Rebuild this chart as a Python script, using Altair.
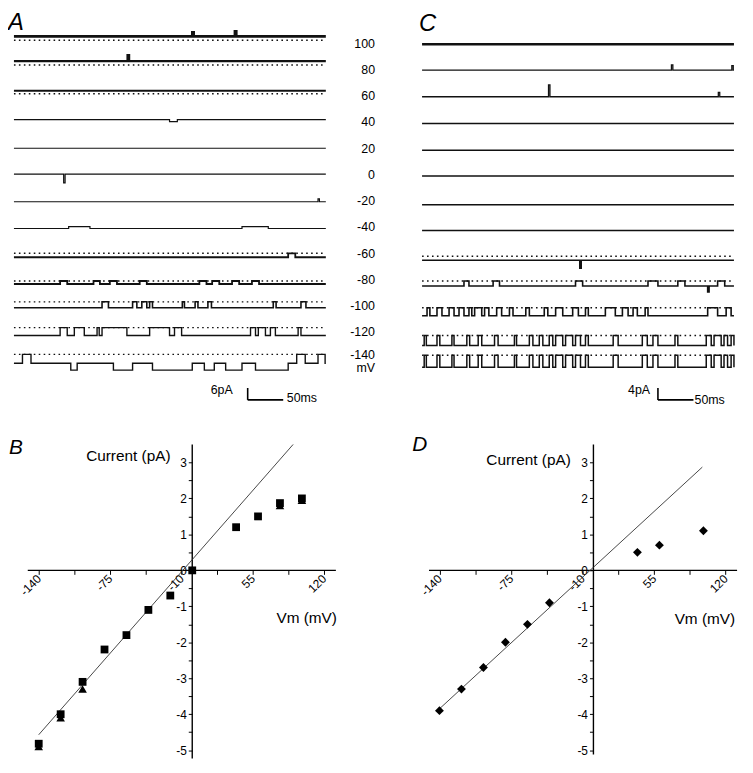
import altair as alt
import pandas as pd

# ------------------------------------------------------------------ data
VOLTS = [100, 80, 60, 40, 20, 0, -20, -40, -60, -80, -100, -120, -140]
TRACE_MS = 439

# Panel A (6 pA scale): baseline shift of each trace (pA), dotted level (pA above baseline)
A_shift = [3.5, 4.25, 2.5, 1.25, 0.0, 0.25, -0.5, -0.75, -2.0, -2.25, -1.0, -1.75, -2.5]
A_level = [-2.0, -2.0, -1.5, None, None, None, None, None, 2.0, 1.5, 3.0, 4.0, 4.5]
# channel events: (start ms, end ms, amplitude pA)
A_events = {
    100: [(251, 253, 2.0), (311, 313, 2.5)],
    80: [(160, 162, 3.0)],
    40: [(219, 230, -1.0)],
    0: [(70, 72, -4.5)],
    -20: [(428, 430, 1.5)],
    -40: [(77, 107, 1.0), (321, 358, 1.0)],
    -60: [(386, 396, 2.0)],
    -80: [(65, 75, 1.5), (112, 121, 1.5), (135, 145, 1.5), (177, 187, 1.5),
          (261, 271, 1.5), (279, 289, 1.5), (307, 317, 1.5), (335, 345, 1.5)],
    -100: [(124, 133, 3.0), (167, 173, 3.0), (180, 187, 3.0), (191, 195, 3.0), (237, 240, 3.0),
           (255, 259, 3.0), (273, 278, 3.0), (365, 369, 3.0), (404, 411, 3.0)],
    -120: [(65, 75, 4.0), (85, 99, 4.0), (117, 120, 4.0), (124, 159, 4.0), (191, 219, 4.0),
           (226, 236, 4.0), (333, 340, 4.0), (344, 354, 4.0), (361, 368, 4.0), (400, 404, 4.0)],
    -140: [(12, 24, 4.5), (80, 89, -3.5), (140, 167, -3.5), (195, 251, -3.5), (268, 282, -3.5),
           (298, 321, -3.5), (340, 386, -3.5), (398, 410, 4.5), (428, 438, 4.5)],
}

# Panel C (4 pA scale)
C_shift = [-0.33, -0.17, -0.33, -0.5, -0.67, -0.5, -1.33, -1.17, -2.33, -2.17, -3.33, -4.5, -3.0]
C_level = [None, None, None, None, None, None, None, None, 1.33, 1.67, 2.67, 3.33, 4.0]
C_open_100 = [(7, 11), (21, 28), (38, 45), (52, 59), (66, 70), (74, 84), (88, 94), (105, 112),
              (123, 128), (146, 151), (172, 177), (188, 198), (212, 220), (230, 234), (258, 272),
              (282, 290), (297, 303), (314, 318), (402, 416), (428, 435)]
C_open_120 = [(3, 6), (21, 25), (42, 45), (63, 67), (79, 84), (102, 107), (130, 133), (151, 156),
              (165, 170), (179, 184), (188, 198), (202, 212), (216, 223), (230, 234), (269, 276),
              (310, 317), (325, 332), (356, 360), (400, 407), (411, 421), (425, 430), (435, 439)]
C_events = {
    80: [(351, 353, 1.7), (436, 438, 1.5)],
    60: [(178, 180, 4.0), (417, 419, 1.5)],
    -60: [(222, 224, -2.7)],
    -80: [(59, 66, 1.67), (100, 109, 1.67), (216, 226, 1.67), (318, 332, 1.67),
          (360, 370, 1.67), (402, 404, -2.0), (416, 426, 1.67)],
    -100: [(a, b, 2.67) for a, b in C_open_100],
    -120: [(a, b, 3.33) for a, b in C_open_120],
    -140: [(a, b, 4.0) for a, b in C_open_120],
}

A_bar_pa, A_bar_ms = 6, 50
C_bar_pa, C_bar_ms = 4, 50

# Panel B: I-V relation
B_vm = [-140, -120, -100, -80, -60, -40, -20, 0, 40, 60, 80, 100]
B_sq = [-4.82, -4.0, -3.1, -2.2, -1.8, -1.1, -0.7, 0.0, 1.2, 1.5, 1.87, 2.0]
B_tri_vm = [-140, -120, -100, 80, 100]
B_tri = [-4.9, -4.1, -3.3, 1.8, 1.95]
B_fit_vm = [-140, 92]
B_fit_pa = [-4.57, 3.5]

# Panel D: I-V relation
D_vm = [-140, -120, -100, -80, -60, -40, 40, 60, 100]
D_pa = [-3.9, -3.3, -2.7, -2.0, -1.5, -0.9, 0.5, 0.7, 1.1]
D_fit_vm = [-140, 99]
D_fit_pa = [-3.85, 2.87]

X_TICKS = [-140, -107.5, -75, -42.5, -10, 22.5, 55, 87.5, 120]
X_LABELS = [-140, -75, -10, 55, 120]
Y_TICKS = [-5, -4.5, -4, -3.5, -3, -2.5, -2, -1.5, -1, -0.5, 0, 0.5, 1, 1.5, 2, 2.5, 3]

# ------------------------------------------------------------------ style / layout
FONT = "Liberation Sans"
A_width = [2.6, 2.4, 2.0, 1.2, 1.2, 1.2, 1.2, 1.2, 1.8, 1.8, 1.6, 1.4, 1.4]
C_width = [2.6, 1.3, 1.3, 1.5, 1.5, 1.5, 1.5, 1.5, 1.6, 1.6, 1.6, 1.5, 1.5]
GAP_A = 13.25          # row spacing in pA (2 px / pA)
GAP_C = 26.5 / 3       # row spacing in pA (3 px / pA)
TOP_W, TOP_H = 317, 397
A_YDOM = [-182.5, 16.0]
C_YDOM = [-121.67, 10.667]
T_DOM = [0, 442]


def letter_layer(letter, x, y, size, baseline):
    return alt.Chart(pd.DataFrame({"s": [letter]})).mark_text(
        align="left", baseline=baseline, fontSize=size, fontStyle="italic",
        font=FONT, color="black").encode(x=alt.value(x), y=alt.value(y), text="s:N")


def trace_table(shift, events, gap, widths):
    recs = []
    for k, v in enumerate(VOLTS):
        base = -k * gap + shift[k]
        pts = [(0.0, 0.0)]
        for t0, t1, a in sorted(events.get(v, [])):
            pts += [(t0, a), (t1, 0.0)]
        pts.append((TRACE_MS, 0.0))
        for i, (t, a) in enumerate(pts):
            recs.append(dict(row=k, i=i, t=t, y=base + a, w=widths[k]))
    return pd.DataFrame(recs)


def level_table(shift, level, gap):
    recs = []
    for k, lv in enumerate(level):
        if lv is not None:
            recs.append(dict(t0=0, t1=TRACE_MS, y=-k * gap + shift[k] + lv))
    return pd.DataFrame(recs)


def trace_panel(shift, level, events, gap, widths, ydom, bar, letter, lx, ly, yaxis):
    xs = alt.Scale(domain=T_DOM, nice=False, zero=False)
    ys = alt.Scale(domain=ydom, nice=False, zero=False)
    df = trace_table(shift, events, gap, widths)
    lv = level_table(shift, level, gap)
    lines = alt.Chart(df).mark_line(interpolate="step-after", color="#111").encode(
        x=alt.X("t:Q", scale=xs, axis=None),
        y=alt.Y("y:Q", scale=ys, axis=yaxis),
        detail="row:N",
        order="i:Q",
        size=alt.Size("w:Q", scale=None),
    )
    dots = alt.Chart(lv).mark_rule(strokeDash=[1.6, 3.4], strokeWidth=1.4, color="#111").encode(
        x=alt.X("t0:Q", scale=xs, axis=None), x2="t1:Q",
        y=alt.Y("y:Q", scale=ys, axis=yaxis),
    )
    bt, by, pa, ms, tdx_l, tdy_l, tdx_r, tdy_r = bar
    bars = pd.DataFrame([dict(x0=bt, x1=bt, y0=by, y1=by + pa), dict(x0=bt, x1=bt + ms, y0=by, y1=by)])
    barm = alt.Chart(bars).mark_rule(color="black", strokeWidth=1.6).encode(
        x=alt.X("x0:Q", scale=xs, axis=None), x2="x1:Q",
        y=alt.Y("y0:Q", scale=ys, axis=yaxis), y2="y1:Q",
    )
    tl = pd.DataFrame([dict(t=bt + tdx_l, y=by + tdy_l, s=f"{pa}pA")])
    tr = pd.DataFrame([dict(t=bt + tdx_r, y=by + tdy_r, s=f"{ms}ms")])
    txl = alt.Chart(tl).mark_text(align="right", baseline="middle", fontSize=12.5, font=FONT, color="black").encode(
        x=alt.X("t:Q", scale=xs, axis=None), y=alt.Y("y:Q", scale=ys, axis=yaxis), text="s:N")
    txr = alt.Chart(tr).mark_text(align="left", baseline="middle", fontSize=12.5, font=FONT, color="black").encode(
        x=alt.X("t:Q", scale=xs, axis=None), y=alt.Y("y:Q", scale=ys, axis=yaxis), text="s:N")
    return alt.layer(lines, dots, barm, txl, txr, letter_layer(letter, lx, ly, 24, "top")).properties(
        width=TOP_W, height=TOP_H)


# label positions of the voltage column (the -140 label sits a little higher, above "mV")
A_label_pos = [-k * GAP_A for k in range(len(VOLTS) - 1)] + [-(len(VOLTS) - 1) * GAP_A + 2]
lookup = "[" + ",".join(f"'{v}'" for v in VOLTS) + "][round(-datum.value/" + str(GAP_A) + ")]"
A_axis = alt.Axis(orient="right", values=A_label_pos, labelExpr=lookup,
                  domain=False, ticks=False, tickSize=0, grid=False, labelPadding=47, labelAlign="right",
                  labelBaseline="middle", labelFontSize=12.5, labelFont=FONT, labelColor="black",
                  labelOverlap=False, labelFlush=False, labelBound=False,
                  title="mV", titleAngle=0, titleAlign="right", titleBaseline="middle",
                  titleX=47, titleY=359, titleFontSize=12.5, titleFont=FONT, titleFontWeight="normal",
                  titleColor="black")

panelA = trace_panel(A_shift, A_level, A_events, GAP_A, A_width, A_YDOM,
                     (329, -180, A_bar_pa, A_bar_ms, -21, 5, 55, 1),
                     "A", -6, 0, A_axis)
panelC = trace_panel(C_shift, C_level, C_events, GAP_C, C_width, C_YDOM,
                     (332, -120, C_bar_pa, C_bar_ms, -11, 3.33, 51.5, 0),
                     "C", -3, 1, None)

x_label_test = " || ".join(f"datum.value == {v}" for v in X_LABELS)


def iv_panel(xdom, ydom, width, height, ax_x, ax_y, layers_data, fit, letter, lx, ly, xt, yt):
    xs = alt.Scale(domain=xdom, nice=False, zero=False)
    ys = alt.Scale(domain=ydom, nice=False, zero=False)
    zero_x = (0 - xdom[0]) / (xdom[1] - xdom[0]) * width
    zero_y = (0 - ydom[0]) / (ydom[1] - ydom[0]) * height
    xaxis = alt.Axis(values=X_TICKS, labelExpr="(" + x_label_test + ") ? '' + datum.value : ''",
                     labelAngle=315, labelAlign="right", labelBaseline="middle", labelPadding=2,
                     offset=-zero_y, domain=False, grid=False, tickSize=4, tickColor="black",
                     labelFontSize=12, labelFont=FONT, labelColor="black",
                     labelOverlap=False, labelFlush=False, labelBound=False,
                     title="Vm (mV)", titleX=xt[0], titleY=xt[1], titleAngle=0, titleAlign="center",
                     titleBaseline="middle", titleFontSize=15.5, titleFont=FONT, titleFontWeight="normal",
                     titleColor="black")
    yaxis = alt.Axis(values=Y_TICKS, labelExpr="datum.value % 1 == 0 ? '' + datum.value : ''",
                     labelPadding=2, offset=-zero_x, domain=False, grid=False, tickSize=4, tickColor="black",
                     labelFontSize=12, labelFont=FONT, labelColor="black",
                     labelOverlap=False, labelFlush=False, labelBound=False,
                     title="Current (pA)", titleX=yt[0], titleY=yt[1], titleAngle=0, titleAlign="center",
                     titleBaseline="middle", titleFontSize=15.5, titleFont=FONT, titleFontWeight="normal",
                     titleColor="black")
    axl = pd.DataFrame([dict(x0=ax_x[0], x1=ax_x[1], y0=0, y1=0), dict(x0=0, x1=0, y0=ax_y[0], y1=ax_y[1])])
    base_rules = alt.Chart(axl).mark_rule(color="black", strokeWidth=1.4).encode(
        x=alt.X("x0:Q", scale=xs, axis=xaxis), x2="x1:Q",
        y=alt.Y("y0:Q", scale=ys, axis=yaxis), y2="y1:Q")
    fitdf = pd.DataFrame({"v": fit[0], "i": fit[1]})
    fitl = alt.Chart(fitdf).mark_line(color="#333", strokeWidth=0.9).encode(
        x=alt.X("v:Q", scale=xs, axis=xaxis), y=alt.Y("i:Q", scale=ys, axis=yaxis))
    layers = [base_rules, fitl]
    for (vm, pa, shape, size) in layers_data:
        d = pd.DataFrame({"v": vm, "i": pa})
        layers.append(alt.Chart(d).mark_point(shape=shape, filled=True, size=size, color="black", opacity=1).encode(
            x=alt.X("v:Q", scale=xs, axis=xaxis), y=alt.Y("i:Q", scale=ys, axis=yaxis)))
    layers.append(letter_layer(letter, lx, ly, 21, "alphabetic"))
    return alt.layer(*layers).properties(width=width, height=height)


panelB = iv_panel([-162.6, 131], [-5.23, 3.5], 325, 317, [-150, 131], [-5.23, 3.5],
                  [(B_tri_vm, B_tri, "triangle-up", 75), (B_vm, B_sq, "square", 62)],
                  (B_fit_vm, B_fit_pa), "B", -5, 10, (295, 48), (-65, 11))
panelD = iv_panel([-155.8, 130.6], [-5.23, 3.5], 318, 317, [-149.5, 130.6], [-5.12, 3.5],
                  [(D_vm, D_pa, "diamond", 80)],
                  (D_fit_vm, D_fit_pa), "D", -10, 7, (285, 49), (-66, 15))

chart = alt.concat(panelA, panelC, panelB, panelD, columns=2,
                   spacing={"row": 40, "column": 87}, bounds="flush").properties(
    padding={"left": 0, "top": 0, "right": 5, "bottom": 5}
).configure_view(stroke=None)

chart.save("out.html", embed_options={"renderer": "svg", "actions": False})
